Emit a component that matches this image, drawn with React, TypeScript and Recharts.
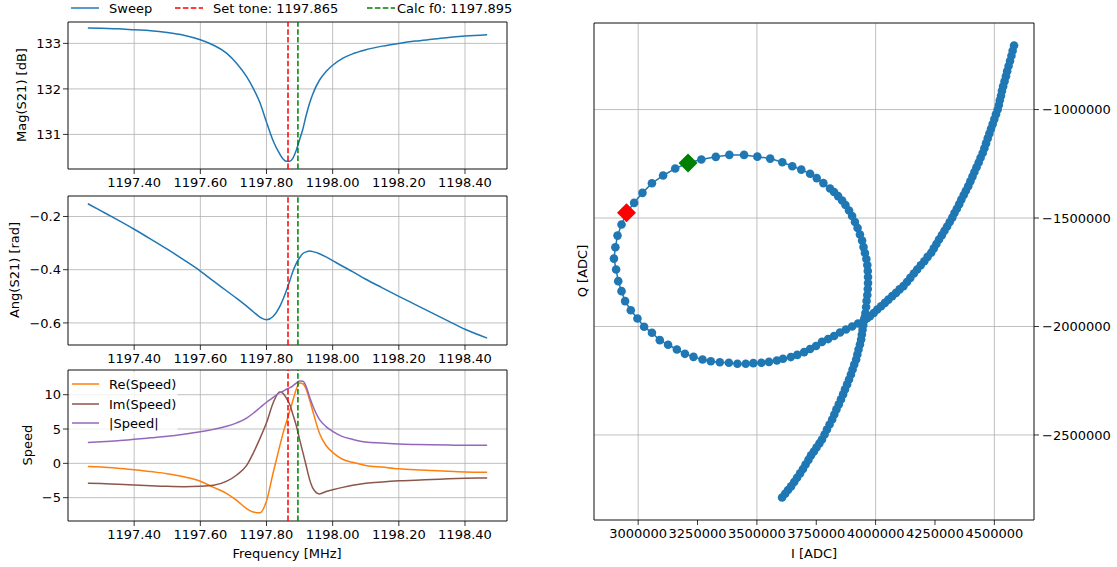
import React from "react";
import {
  LineChart,
  Line,
  XAxis,
  YAxis,
  CartesianGrid,
  ReferenceLine,
  ReferenceArea,
  ScatterChart,
  Scatter,
} from "recharts";

// Sweep frequencies [MHz], shared by the three left panels
const FREQ = [
  1197.26, 1197.3, 1197.35, 1197.4, 1197.45, 1197.5, 1197.55, 1197.6, 1197.64, 1197.68,
  1197.71, 1197.74, 1197.76, 1197.78, 1197.8, 1197.82, 1197.84, 1197.85, 1197.86, 1197.87,
  1197.88, 1197.89, 1197.9, 1197.91, 1197.92, 1197.93, 1197.94, 1197.96, 1197.98, 1198.0,
  1198.03, 1198.06, 1198.1, 1198.15, 1198.2, 1198.25, 1198.3, 1198.35, 1198.4, 1198.467,
];

const MAG_DB = [
  133.34, 133.33, 133.32, 133.3, 133.28, 133.24, 133.18, 133.08, 132.96, 132.78,
  132.56, 132.27, 132.01, 131.7, 131.27, 130.86, 130.57, 130.46, 130.41, 130.41,
  130.48, 130.65, 130.88, 131.12, 131.42, 131.68, 131.89, 132.19, 132.38, 132.52,
  132.67, 132.77, 132.86, 132.94, 133.0, 133.05, 133.09, 133.13, 133.16, 133.19,
];

const ANG_RAD = [
  -0.152, -0.179, -0.213, -0.248, -0.285, -0.323, -0.363, -0.405, -0.443, -0.48,
  -0.508, -0.537, -0.558, -0.578, -0.588, -0.576, -0.539, -0.511, -0.479, -0.443,
  -0.406, -0.376, -0.355, -0.339, -0.333, -0.33, -0.332, -0.34, -0.352, -0.366,
  -0.387, -0.407, -0.436, -0.468, -0.5, -0.531, -0.562, -0.593, -0.624, -0.657,
];

const RE_SPEED = [
  -0.45, -0.55, -0.72, -0.92, -1.2, -1.5, -1.95, -2.6, -3.5, -4.4,
  -5.4, -6.6, -7.1, -7.2, -5.5, -1.4, 2.5, 4.4, 6.0, 7.6,
  9.2, 10.8, 11.7, 11.6, 10.8, 9.3, 7.6, 4.4, 2.6, 1.6,
  0.6, 0.15, -0.3, -0.55, -0.8, -0.95, -1.05, -1.15, -1.25, -1.3,
];

const IM_SPEED = [
  -2.9, -2.95, -3.05, -3.15, -3.25, -3.35, -3.4, -3.35, -3.2, -2.6,
  -1.7, -0.3, 1.5, 3.6, 5.9, 8.8, 10.4, 10.2, 9.5, 8.6,
  7.1, 5.5, 3.5, 1.6, -0.35, -2.3, -3.6, -4.45, -4.1, -3.85,
  -3.5, -3.2, -2.9, -2.7, -2.55, -2.45, -2.35, -2.25, -2.18, -2.12,
];

const ABS_SPEED = [
  3.05, 3.15, 3.3, 3.5, 3.72, 3.95, 4.25, 4.6, 4.95, 5.4,
  5.9, 6.6, 7.3, 8.1, 8.9, 9.6, 10.3, 10.5, 10.8, 11.0,
  11.3, 11.7, 12.0, 11.95, 11.2, 9.7, 8.4, 6.4, 5.35, 4.65,
  3.9, 3.5, 3.1, 2.95, 2.82, 2.75, 2.7, 2.66, 2.62, 2.62,
];

const SET_TONE = 1197.865;
const CALC_F0 = 1197.895;

// IQ sweep, in thousands of ADC counts [I, Q], in sweep order
const IQ_SWEEP: [number, number][] = [
  [4583, -705], [4577, -729], [4572, -752], [4566, -776], [4560, -799], [4554, -823], [4549, -846], [4543, -870],
  [4537, -893], [4532, -914], [4528, -936], [4523, -957], [4519, -979],
  [4514, -1000], [4507, -1022], [4500, -1044], [4493, -1067], [4486, -1089], [4479, -1111], [4472, -1133], [4465, -1156], [4458, -1178],
  [4451, -1200], [4442, -1222], [4434, -1244], [4425, -1266], [4416, -1288], [4408, -1309], [4399, -1331],
  [4390, -1353], [4380, -1374], [4371, -1394], [4361, -1415], [4352, -1436], [4342, -1457], [4332, -1477],
  [4323, -1498], [4312, -1518], [4301, -1539], [4290, -1559], [4279, -1579], [4267, -1599], [4256, -1620], [4245, -1640],
  [4234, -1660], [4219, -1679], [4205, -1699], [4190, -1718], [4175, -1737], [4161, -1756], [4146, -1776], [4132, -1795],
  [4117, -1814], [4101, -1829], [4086, -1845], [4070, -1860], [4054, -1876], [4039, -1891], [4023, -1907], [4007, -1922], [3992, -1938],
  [3976, -1953], [3964, -1962], [3951, -1972],
  [3926, -1986], [3901, -2000], [3875, -2014], [3850, -2028], [3825, -2044], [3800, -2058], [3774, -2071], [3749, -2090],
  [3724, -2104], [3699, -2118], [3670, -2131], [3643, -2141], [3610, -2149], [3584, -2157], [3551, -2163], [3519, -2167],
  [3485, -2169], [3453, -2172], [3418, -2172], [3382, -2167], [3344, -2165], [3306, -2160], [3271, -2152], [3233, -2140],
  [3197, -2126], [3163, -2106], [3126, -2084], [3091, -2063], [3058, -2029], [3025, -2001], [2997, -1963], [2969, -1925],
  [2945, -1883], [2930, -1837], [2916, -1791], [2907, -1737], [2898, -1687], [2904, -1635], [2913, -1581], [2930, -1530],
  [2951, -1476], [2983, -1430], [3018, -1384], [3058, -1340], [3105, -1304], [3156, -1272], [3210, -1246], [3266, -1230],
  [3327, -1218], [3384, -1209], [3446, -1209], [3502, -1217], [3556, -1226], [3607, -1243], [3649, -1261], [3687, -1277],
  [3724, -1296], [3752, -1316], [3780, -1339], [3808, -1364],
  [3825, -1380], [3842, -1399], [3859, -1419], [3873, -1440], [3888, -1465], [3901, -1491], [3913, -1518], [3924, -1546],
  [3934, -1576], [3943, -1604], [3949, -1634], [3955, -1661], [3961, -1689], [3965, -1717], [3967, -1744], [3968, -1772],
  [3968, -1800], [3967, -1827], [3965, -1855], [3962, -1882], [3960, -1910], [3957, -1938], [3954, -1959], [3951, -1972],
  [3948, -1993], [3945, -2015], [3942, -2037], [3939, -2060], [3934, -2083], [3928, -2106], [3923, -2129], [3918, -2152],
  [3910, -2175], [3903, -2198], [3896, -2221], [3888, -2244], [3880, -2267], [3871, -2290], [3863, -2313], [3854, -2336],
  [3845, -2359], [3835, -2382], [3826, -2406], [3817, -2429], [3806, -2452], [3795, -2475], [3785, -2498], [3774, -2521],
  [3763, -2539], [3751, -2558], [3740, -2576], [3728, -2594], [3717, -2615], [3705, -2636], [3694, -2657], [3682, -2677],
  [3669, -2697], [3657, -2717], [3644, -2737], [3631, -2754], [3619, -2771], [3606, -2788],
];
const IQ_SET_TONE: [number, number] = [2951, -1476];
const IQ_CALC_F0: [number, number] = [3210, -1246];

const FREQ_TICKS = [1197.4, 1197.6, 1197.8, 1198.0, 1198.2, 1198.4];
const FREQ_DOMAIN: [number, number] = [1197.2, 1198.527];
const MAG_TICKS = [131, 132, 133];
const MAG_DOMAIN: [number, number] = [130.24, 133.47];
const ANG_TICKS = [-0.6, -0.4, -0.2];
const ANG_DOMAIN: [number, number] = [-0.683, -0.123];
const SPEED_TICKS = [-5, 0, 5, 10];
const SPEED_DOMAIN: [number, number] = [-8.4, 13.6];
const I_TICKS = [3000000, 3250000, 3500000, 3750000, 4000000, 4250000, 4500000];
const I_DOMAIN: [number, number] = [2814000, 4667000];
const Q_TICKS = [-2500000, -2000000, -1500000, -1000000];
const Q_DOMAIN: [number, number] = [-2892000, -601000];

const BLUE = "#1f77b4";
const ORANGE = "#ff7f0e";
const BROWN = "#8c564b";
const PURPLE = "#9467bd";
const RED = "#ff0000";
const GREEN = "#008000";
const GRID = "#b0b0b0";
const FONT = "DejaVu Sans";

const sweepRows = FREQ.map((f, i) => ({
  f,
  mag: MAG_DB[i],
  ang: ANG_RAD[i],
  re: RE_SPEED[i],
  im: IM_SPEED[i],
  abs: ABS_SPEED[i],
}));

const toIQ = (p: [number, number]) => ({ x: p[0] * 1000, y: p[1] * 1000 });
const iqRows = IQ_SWEEP.map(toIQ);

const minus = (s: string) => s.replace("-", "\u2212");
const tickStyle = { fontSize: 13, fill: "#000", fontFamily: FONT };

function Panel({
  top,
  height,
  yDomain,
  yTicks,
  yFmt,
  children,
}: {
  top: number;
  height: number;
  yDomain: [number, number];
  yTicks: number[];
  yFmt: (v: number) => string;
  children: React.ReactNode;
}) {
  return (
    <div style={{ position: "absolute", left: 0, top }}>
      <LineChart width={520} height={height} data={sweepRows} margin={{ top: 22, right: 13, bottom: 0, left: 0 }}>
        <CartesianGrid stroke={GRID} strokeWidth={0.8} />
        <XAxis
          dataKey="f"
          type="number"
          domain={FREQ_DOMAIN}
          ticks={FREQ_TICKS}
          allowDataOverflow
          height={21}
          axisLine={false}
          tickSize={5}
          tickMargin={4}
          tickLine={{ stroke: "#000", strokeWidth: 0.8 }}
          tick={tickStyle}
          tickFormatter={(v: number) => v.toFixed(2)}
        />
        <YAxis
          type="number"
          domain={yDomain}
          ticks={yTicks}
          allowDataOverflow
          width={68}
          axisLine={false}
          tickSize={5}
          tickMargin={2}
          tickLine={{ stroke: "#000", strokeWidth: 0.8 }}
          tick={tickStyle}
          tickFormatter={yFmt}
        />
        {children}
        <ReferenceLine x={SET_TONE} stroke={RED} strokeWidth={1.5} strokeDasharray="5.5 2.4" />
        <ReferenceLine x={CALC_F0} stroke={GREEN} strokeWidth={1.5} strokeDasharray="5.5 2.4" />
        <ReferenceArea
          x1={FREQ_DOMAIN[0]}
          x2={FREQ_DOMAIN[1]}
          y1={yDomain[0]}
          y2={yDomain[1]}
          fill="none"
          fillOpacity={0}
          stroke="#000"
          strokeWidth={0.8}
        />
      </LineChart>
    </div>
  );
}

const circleDot = (p: any) => <circle cx={p.cx} cy={p.cy} r={4.3} fill={BLUE} />;
const diamond = (color: string) => (p: any) => (
  <polygon
    points={`${p.cx},${p.cy - 9.5} ${p.cx + 9.5},${p.cy} ${p.cx},${p.cy + 9.5} ${p.cx - 9.5},${p.cy}`}
    fill={color}
  />
);

export default function App() {
  return (
    <div
      style={{
        position: "absolute",
        left: 0,
        top: 0,
        width: 1117,
        height: 567,
        background: "#fff",
        fontFamily: FONT,
      }}
    >
      <Panel top={0} height={190} yDomain={MAG_DOMAIN} yTicks={MAG_TICKS} yFmt={(v) => String(v)}>
        <Line type="monotone" dataKey="mag" stroke={BLUE} strokeWidth={1.5} dot={false} isAnimationActive={false} />
      </Panel>
      <Panel top={174} height={192} yDomain={ANG_DOMAIN} yTicks={ANG_TICKS} yFmt={(v) => minus(v.toFixed(1))}>
        <Line type="monotone" dataKey="ang" stroke={BLUE} strokeWidth={1.5} dot={false} isAnimationActive={false} />
      </Panel>
      <Panel top={348} height={194} yDomain={SPEED_DOMAIN} yTicks={SPEED_TICKS} yFmt={(v) => minus(String(v))}>
        <Line type="monotone" dataKey="re" stroke={ORANGE} strokeWidth={1.5} dot={false} isAnimationActive={false} />
        <Line type="monotone" dataKey="im" stroke={BROWN} strokeWidth={1.5} dot={false} isAnimationActive={false} />
        <Line type="monotone" dataKey="abs" stroke={PURPLE} strokeWidth={1.5} dot={false} isAnimationActive={false} />
      </Panel>

      <div style={{ position: "absolute", left: 560, top: 0 }}>
        <ScatterChart width={557} height={567} margin={{ top: 23, right: 3, bottom: 17, left: 34 }}>
          <CartesianGrid stroke={GRID} strokeWidth={0.8} />
          <XAxis
            dataKey="x"
            type="number"
            domain={I_DOMAIN}
            ticks={I_TICKS}
            allowDataOverflow
            height={30}
            axisLine={false}
            tickSize={5}
            tickMargin={4}
            tickLine={{ stroke: "#000", strokeWidth: 0.8 }}
            tick={tickStyle}
          />
          <YAxis
            dataKey="y"
            type="number"
            orientation="right"
            domain={Q_DOMAIN}
            ticks={Q_TICKS}
            allowDataOverflow
            width={80}
            axisLine={false}
            tickSize={5}
            tickMargin={3}
            tickLine={{ stroke: "#000", strokeWidth: 0.8 }}
            tick={{ ...tickStyle, textAnchor: "start" }}
            tickFormatter={(v: number) => minus(String(v))}
          />
          <Scatter
            data={iqRows}
            fill={BLUE}
            line={{ stroke: BLUE, strokeWidth: 1.5 }}
            lineType="joint"
            shape={circleDot}
            isAnimationActive={false}
          />
          <Scatter data={[toIQ(IQ_SET_TONE)]} fill={RED} shape={diamond(RED)} isAnimationActive={false} />
          <Scatter data={[toIQ(IQ_CALC_F0)]} fill={GREEN} shape={diamond(GREEN)} isAnimationActive={false} />
          <ReferenceArea
            x1={I_DOMAIN[0]}
            x2={I_DOMAIN[1]}
            y1={Q_DOMAIN[0]}
            y2={Q_DOMAIN[1]}
            fill="none"
            fillOpacity={0}
            stroke="#000"
            strokeWidth={0.8}
          />
        </ScatterChart>
      </div>

      {/* legends and axis titles */}
      <svg
        width={1117}
        height={567}
        style={{ position: "absolute", left: 0, top: 0, pointerEvents: "none" }}
        fontFamily={FONT}
        fontSize={13}
      >
        <line x1={71} x2={99} y1={8} y2={8} stroke={BLUE} strokeWidth={1.5} />
        <text x={109} y={8} dominantBaseline="central">Sweep</text>
        <line x1={175} x2={203} y1={8} y2={8} stroke={RED} strokeWidth={1.5} strokeDasharray="5.5 2.4" />
        <text x={213} y={8} dominantBaseline="central">Set tone: 1197.865</text>
        <line x1={367} x2={395} y1={8} y2={8} stroke={GREEN} strokeWidth={1.5} strokeDasharray="5.5 2.4" />
        <text x={397} y={8} dominantBaseline="central">Calc f0: 1197.895</text>

        <rect x={69.5} y={372} width={108} height={62} rx={3} fill="#fff" fillOpacity={0.8} />
        <line x1={72} x2={99} y1={384} y2={384} stroke={ORANGE} strokeWidth={1.5} />
        <text x={109} y={384} dominantBaseline="central">Re(Speed)</text>
        <line x1={72} x2={99} y1={404} y2={404} stroke={BROWN} strokeWidth={1.5} />
        <text x={109} y={404} dominantBaseline="central">Im(Speed)</text>
        <line x1={72} x2={99} y1={423} y2={423} stroke={PURPLE} strokeWidth={1.5} />
        <text x={109} y={423} dominantBaseline="central">|Speed|</text>

        <text x={21} y={95} textAnchor="middle" dominantBaseline="central" transform="rotate(-90 21 95)">Mag(S21) [dB]</text>
        <text x={14} y={270} textAnchor="middle" dominantBaseline="central" transform="rotate(-90 14 270)">Ang(S21) [rad]</text>
        <text x={27} y={445} textAnchor="middle" dominantBaseline="central" transform="rotate(-90 27 445)">Speed</text>
        <text x={287} y={553} textAnchor="middle" dominantBaseline="central">Frequency [MHz]</text>
        <text x={582} y={271} textAnchor="middle" dominantBaseline="central" transform="rotate(-90 582 271)">Q [ADC]</text>
        <text x={814} y={553} textAnchor="middle" dominantBaseline="central">I [ADC]</text>
      </svg>
    </div>
  );
}
